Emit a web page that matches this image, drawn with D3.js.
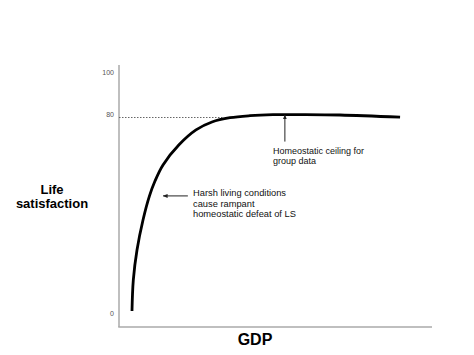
<!doctype html>
<html lang="en">
<head>
<meta charset="utf-8">
<title>Life satisfaction vs GDP</title>
<script src="https://d3js.org/d3.v7.min.js"></script>
<style>
  body { margin: 0; background: white; }
  svg text { font-family: "Liberation Sans", Arial, Helvetica, sans-serif; }
</style>
</head>
<body>
<svg id="svg" width="474" height="355"></svg>
<script>
// curve: GDP (0-100 along the axis) vs life satisfaction
let gdp = [4.15, 4.57, 5.75, 7.67, 9.74, 11.5, 14.06, 19.17, 24.6, 29.7,
           35.46, 41.85, 49.2, 58.47, 70.6, 89.8];
let ls  = [2.0, 14.5, 26.6, 38.7, 48.4, 54.4, 60.9, 69.0, 75.0, 78.2,
           79.92, 80.85, 81.32, 81.36, 81.18, 80.14];
let yTicks = [0, 80, 100];
let ceiling = 80;          // dotted reference level
let ceilingEnd = 33;       // GDP where the dotted line stops

let width = 474, height = 355;
let plot = { left: 119, right: 432, top: 65, bottom: 327 };

let svg = d3.select("#svg");

let xScale = d3.scaleLinear().domain([0, 100]).range([plot.left, plot.right]);
let yScale = d3.scaleLinear().domain([0, 80, 100]).range([316, 117.5, 75]);

// arrow marker
svg.append("defs").append("marker")
    .attr("id", "head")
    .attr("viewBox", "0 0 10 10")
    .attr("refX", 9).attr("refY", 5)
    .attr("markerWidth", 5).attr("markerHeight", 5)
    .attr("orient", "auto-start-reverse")
    .append("path")
    .attr("d", "M0,1 L10,5 L0,9 z")
    .attr("fill", "#222");

// axes lines (no ticks)
svg.append("line")
    .attr("x1", plot.left).attr("x2", plot.left)
    .attr("y1", plot.top).attr("y2", plot.bottom)
    .attr("stroke", "#aaa").attr("stroke-width", 1.5);
svg.append("line")
    .attr("x1", plot.left - 0.75).attr("x2", plot.right)
    .attr("y1", plot.bottom).attr("y2", plot.bottom)
    .attr("stroke", "#aaa").attr("stroke-width", 1.5);

let yAxis = svg.append("g")
    .attr("transform", `translate(${plot.left}, 0)`)
    .call(d3.axisLeft(yScale).tickValues(yTicks).tickSize(0).tickPadding(5));
yAxis.select(".domain").remove();
yAxis.selectAll("text")
    .attr("font-size", 7)
    .attr("fill", "#555")
    .attr("y", -3)
    .style("font-family", "'Liberation Sans', Arial, sans-serif");

// dotted ceiling line
svg.append("line")
    .attr("x1", xScale(0)).attr("x2", xScale(ceilingEnd))
    .attr("y1", yScale(ceiling)).attr("y2", yScale(ceiling))
    .attr("stroke", "#666").attr("stroke-width", 1)
    .attr("stroke-dasharray", "1.5,1.5");

// the curve
let points = gdp.map((g, i) => [g, ls[i]]);
svg.append("path")
    .datum(points)
    .attr("fill", "none")
    .attr("stroke", "black")
    .attr("stroke-width", 2.8)
    .attr("d", d3.line()
        .x(d => xScale(d[0]))
        .y(d => yScale(d[1]))
        .curve(d3.curveCatmullRom));

// annotation arrows
svg.append("line")
    .attr("x1", xScale(53)).attr("x2", xScale(53))
    .attr("y1", yScale(70.3)).attr("y2", yScale(81.2))
    .attr("stroke", "#222").attr("stroke-width", 1)
    .attr("marker-end", "url(#head)");
svg.append("line")
    .attr("x1", xScale(22)).attr("x2", xScale(14.1))
    .attr("y1", yScale(48.4)).attr("y2", yScale(48.4))
    .attr("stroke", "#222").attr("stroke-width", 1)
    .attr("marker-end", "url(#head)");

// annotation texts
let ceilingNote = ["Homeostatic ceiling for", "group data"];
let harshNote = ["Harsh living conditions", "cause rampant", "homeostatic defeat of LS"];

svg.append("text")
    .attr("x", 273).attr("y", 153.5)
    .attr("font-size", 9)
    .attr("fill", "#111")
    .selectAll("tspan")
    .data(ceilingNote)
    .join("tspan")
    .attr("x", 273)
    .attr("dy", (d, i) => i ? 10.7 : 0)
    .text(d => d);

svg.append("text")
    .attr("x", 193).attr("y", 196)
    .attr("font-size", 9.3)
    .attr("fill", "#111")
    .selectAll("tspan")
    .data(harshNote)
    .join("tspan")
    .attr("x", 193)
    .attr("dy", (d, i) => i ? 10.5 : 0)
    .text(d => d);

// axis titles
svg.append("text")
    .attr("x", 52).attr("y", 193.5)
    .attr("text-anchor", "middle")
    .attr("font-size", 13)
    .attr("font-weight", "bold")
    .selectAll("tspan")
    .data(["Life", "satisfaction"])
    .join("tspan")
    .attr("x", 52)
    .attr("dy", (d, i) => i ? 14 : 0)
    .text(d => d);

svg.append("text")
    .attr("x", 255).attr("y", 345)
    .attr("text-anchor", "middle")
    .attr("font-size", 16)
    .attr("font-weight", "bold")
    .text("GDP");
</script>
</body>
</html>
